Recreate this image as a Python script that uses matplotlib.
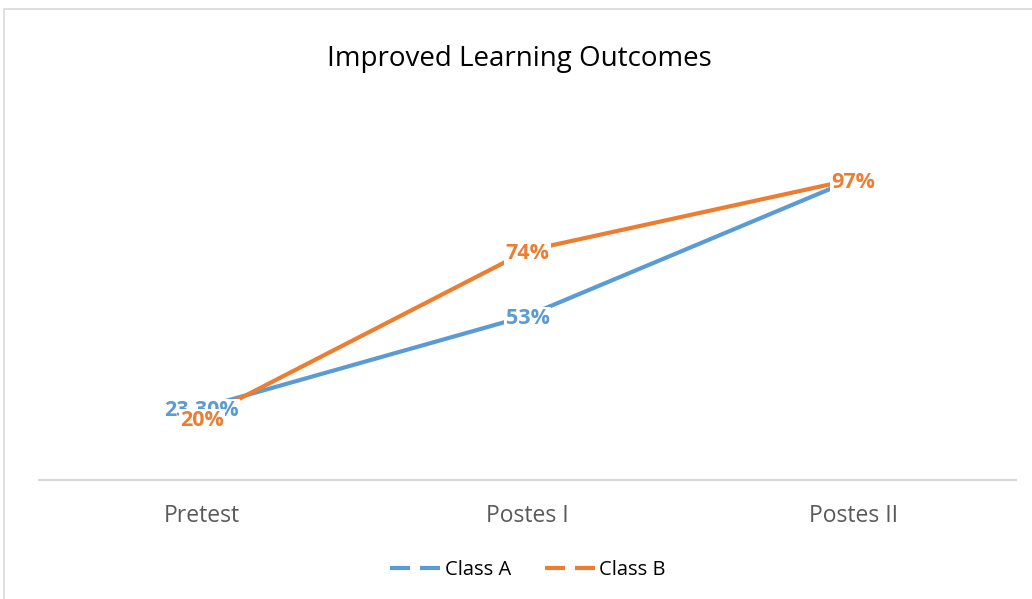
import matplotlib
matplotlib.use('agg')
from matplotlib import pyplot as plt
from matplotlib.lines import Line2D
from matplotlib.patches import Rectangle

categories = ['Pretest', 'Postes I', 'Postes II']
class_a = [23.3, 53, 97]
class_b = [20, 74, 97]
labels_a = ['23.30%', '53%', '97%']
labels_b = ['20%', '74%', '97%']

blue = '#5B9BD5'
orange = '#ED7D31'
plt.rcParams['font.family'] = ['Open Sans', 'DejaVu Sans']

fig = plt.figure(figsize=(10.32, 5.99), dpi=100)
# chart border (Excel chart area)
fig.patches.append(Rectangle((4 / 1032, -0.01), 1.02, (599 - 9) / 599 + 0.01,
                             transform=fig.transFigure, fill=False,
                             edgecolor='#D9D9D9', linewidth=1.2))

ax = fig.add_axes([39 / 1032, 119 / 599, 977 / 1032, 372 / 599])
x = range(len(categories))
ax.plot(x, class_a, color=blue, lw=3, solid_capstyle='round', zorder=2)
ax.plot(x, class_b, color=orange, lw=3, solid_capstyle='round', zorder=3)

box = dict(boxstyle='square,pad=0.05', fc='white', ec='none')
for i, (v, t) in enumerate(zip(class_a, labels_a)):
    if i == 2:
        continue
    ax.annotate(t, (i, v), xytext=(0, -2), textcoords='offset points',
                color=blue, fontsize=15.5, fontweight='bold',
                ha='center', va='center', bbox=box, zorder=4)
for i, (v, t) in enumerate(zip(class_b, labels_b)):
    ax.annotate(t, (i, v), xytext=(0, -2), textcoords='offset points',
                color=orange, fontsize=15.5, fontweight='bold',
                ha='center', va='center', bbox=box, zorder=5)

ax.set_xlim(-0.5, 2.5)
ax.set_ylim(0, 120)
ax.set_xticks(list(x))
ax.set_xticklabels(categories, color='#595959', fontsize=16.5)
ax.tick_params(axis='x', length=0, pad=17)
ax.set_yticks([])
for s in ['top', 'right', 'left']:
    ax.spines[s].set_visible(False)
ax.spines['bottom'].set_color('#D9D9D9')
ax.spines['bottom'].set_linewidth(1.5)

fig.text(519 / 1032, 1 - 59 / 599, 'Improved Learning Outcomes',
         ha='center', va='center', fontsize=20, color='black')

handles = [Line2D([], [], color=blue, lw=3, linestyle=(0, (4.8, 2.4))),
           Line2D([], [], color=orange, lw=3, linestyle=(0, (4.8, 2.4)))]
fig.legend(handles, ['Class A', 'Class B'], loc='center',
           bbox_to_anchor=(528 / 1032, 1 - 570 / 599), ncol=2, frameon=False,
           fontsize=14.5, handlelength=2.6, handletextpad=0.1, columnspacing=1.7)

fig.savefig('out.png', dpi=100)
